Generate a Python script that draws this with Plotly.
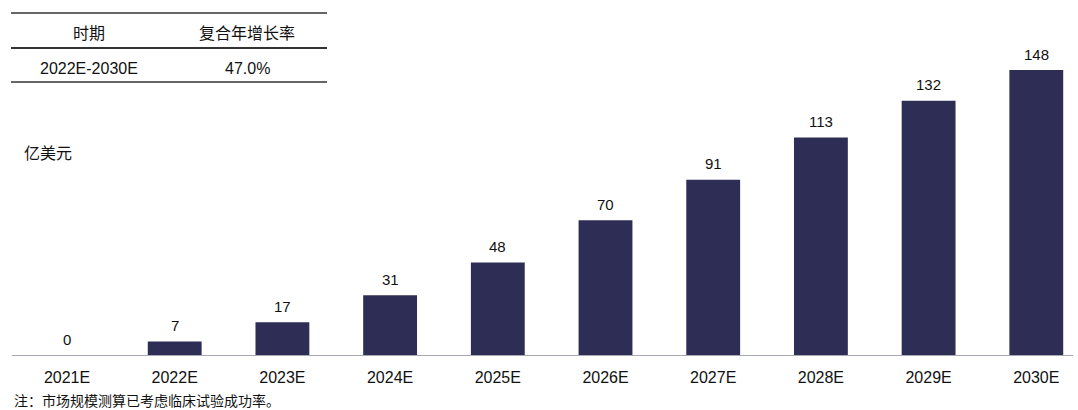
import plotly.graph_objects as go

categories = ["2021E", "2022E", "2023E", "2024E", "2025E", "2026E", "2027E", "2028E", "2029E", "2030E"]
values = [0, 7, 17, 31, 48, 70, 91, 113, 132, 148]
table_header = ["时期", "复合年增长率"]
table_row = ["2022E-2030E", "47.0%"]
unit_label = "亿美元"
footnote = "注：市场规模测算已考虑临床试验成功率。"

W, H = 1078, 410
font_en = "Liberation Sans, Arial, Noto Sans CJK SC, sans-serif"
font_cn = "Noto Sans CJK SC, Liberation Sans, sans-serif"

top_px, bot_px = 40, 355
left_px, right_px = 12, 1073
px_per_unit = 285 / 148

fig = go.Figure()
fig.add_trace(go.Bar(
    x=list(range(len(categories))), y=values,
    marker=dict(color="#2e2d55", line=dict(width=0)),
    width=0.5,
))

# value labels above bars
for i, v in enumerate(values):
    fig.add_annotation(x=i, y=v, xref="x", yref="y", text=str(v),
                       showarrow=False, yanchor="middle", yshift=16,
                       font=dict(family=font_en, size=15, color="#111111"))

fig.update_layout(
    width=W, height=H,
    margin=dict(l=left_px, r=W - right_px, t=top_px, b=H - bot_px),
    plot_bgcolor="white", paper_bgcolor="white",
    showlegend=False,
    xaxis=dict(
        tickmode="array", tickvals=list(range(len(categories))), ticktext=categories,
        range=[(left_px - 67) / 107.7, (right_px - 67) / 107.7],
        showline=True, linecolor="#a8a8b0", linewidth=1.2,
        showgrid=False, zeroline=False, ticks="",
        ticklabelstandoff=8,
        tickfont=dict(family=font_en, size=16, color="#111111"),
    ),
    yaxis=dict(
        range=[0, (bot_px - top_px) / px_per_unit],
        visible=False, showgrid=False, zeroline=False,
    ),
)

plot_h = bot_px - top_px

def paper_y(py):
    return (bot_px - py) / plot_h

def paper_x(px):
    return (px - left_px) / (right_px - left_px)

for y, w in [(13, 1.5), (48, 2.2), (82, 1.5)]:
    fig.add_shape(type="line", xref="paper", yref="paper",
                  x0=paper_x(11), x1=paper_x(327), y0=paper_y(y), y1=paper_y(y),
                  line=dict(color="#333333", width=w))

def add_text(txt, px, py, size, family, xanchor="center"):
    fig.add_annotation(text=txt, xref="paper", yref="paper",
                       x=paper_x(px), y=paper_y(py), xanchor=xanchor, yanchor="middle",
                       showarrow=False, font=dict(family=family, size=size, color="#111111"))

add_text(table_header[0], 89, 32, 16, font_cn)
add_text(table_header[1], 247, 32, 16, font_cn)
add_text(table_row[0], 89, 68, 16, font_en)
add_text(table_row[1], 247, 68, 16, font_en)
add_text(unit_label, 22, 152, 16, font_cn, xanchor="left")
add_text(footnote, 12, 400, 14, font_cn, xanchor="left")

fig.write_html("out.html")
